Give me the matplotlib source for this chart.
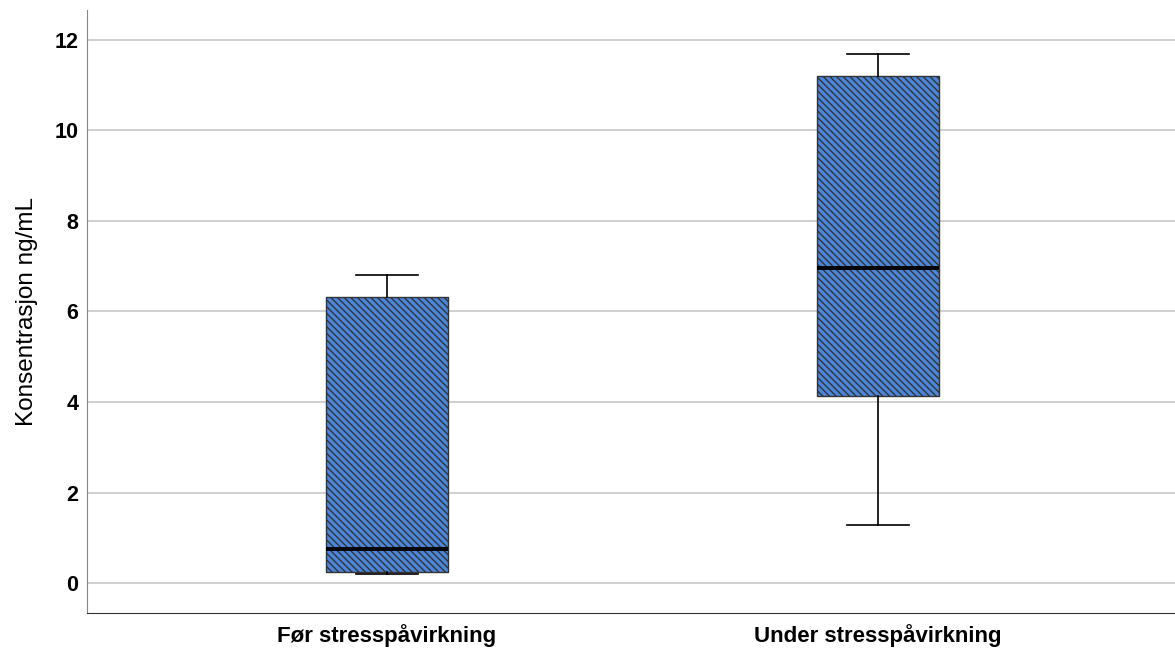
import matplotlib
matplotlib.use("Agg")
import matplotlib.pyplot as plt

plt.rcParams['font.family'] = ['Liberation Sans', 'DejaVu Sans']
plt.rcParams['hatch.linewidth'] = 1.0
plt.rcParams['hatch.color'] = '#111111'

groups = ['Før stresspåvirkning', 'Under stresspåvirkning']
whisker_low = [0.20, 1.28]
q1 = [0.24, 4.13]
median = [0.75, 6.96]
q3 = [6.32, 11.20]
whisker_high = [6.80, 11.69]
yticks = [0, 2, 4, 6, 8, 10, 12]

stats = []
for i, name in enumerate(groups):
    stats.append({'label': name, 'whislo': whisker_low[i], 'q1': q1[i],
                  'med': median[i], 'q3': q3[i], 'whishi': whisker_high[i],
                  'fliers': []})

fig = plt.figure(figsize=(11.75, 6.48), dpi=100)
ax = fig.add_axes([0.074, 0.054, 0.926, 0.931])

ax.set_axisbelow(True)
ax.yaxis.grid(True, color='#c8c8c8', linewidth=1.2)

bp = ax.bxp(stats, positions=[1, 2], widths=0.25, patch_artist=True,
            showfliers=False,
            boxprops=dict(facecolor='#4a86dc', edgecolor='#333333',
                          linewidth=1.0, hatch='\\' * 5),
            medianprops=dict(color='black', linewidth=2.8),
            whiskerprops=dict(color='black', linewidth=1.2),
            capprops=dict(color='black', linewidth=1.2),
            capwidths=0.125)

ax.set_xlim(0.389, 2.605)
ax.set_ylim(-0.66, 12.66)
ax.set_yticks(yticks)
ax.set_xticks([1, 2])
ax.set_xticklabels(groups)
ax.tick_params(axis='both', length=0, labelsize=15.5)
ax.tick_params(axis='y', pad=6)
ax.tick_params(axis='x', labelsize=16, pad=8)
for lbl in ax.get_xticklabels() + ax.get_yticklabels():
    lbl.set_fontweight('bold')
ax.set_ylabel('Konsentrasjon ng/mL', fontsize=17.5, labelpad=12)

ax.spines['top'].set_visible(False)
ax.spines['right'].set_visible(False)
ax.spines['left'].set_color('#888888')
ax.spines['bottom'].set_color('#333333')

fig.savefig('out.png', dpi=100)
